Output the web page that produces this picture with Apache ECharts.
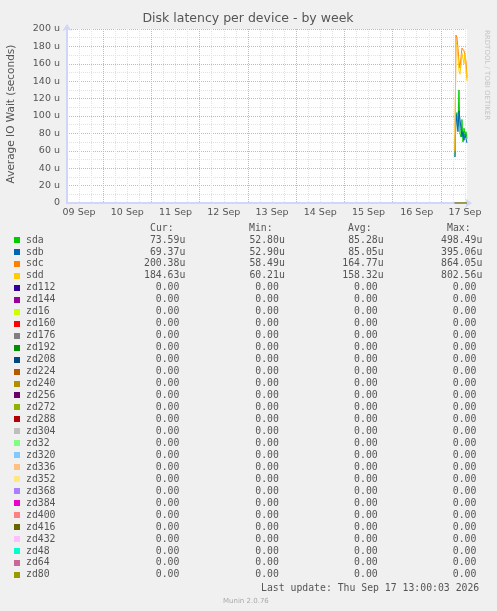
<!DOCTYPE html>
<html>
<head>
<meta charset="utf-8">
<script src="https://cdn.jsdelivr.net/npm/echarts@6/dist/echarts.min.js"></script>
<style>
	html, body { margin: 0; padding: 0; background: #f0f0f0; }
	#main { width: 497px; height: 611px; }
</style>
</head>
<body>
<div id="main"></div>
<script>
/** ---------------- data (values in micro-seconds) ---------------- */
var sampleTimes = ['07:00', '07:30', '08:00', '08:30', '09:00', '09:30', '10:00',
	'10:30', '11:00', '11:30', '12:00', '12:30', '13:00'];
var sdaValues = [52.8, 98, 104, 88, 130, 80, 76, 96, 70, 86, 78, 82, 74];
var sdbValues = [52.9, 102, 92, 82, 106, 96, 86, 76, 82, 72, 79, 74, 69];
var sdcValues = [58.5, 193, 190, 178, 163, 155, 167, 178, 176, 175, 177, 163, 144];
var sddValues = [60.2, 185, 182, 168, 152, 148, 158, 172, 170, 160, 172, 155, 140];
var zdValues  = [0, 0, 0, 0, 0, 0, 0, 0, 0, 0, 0, 0, 0];

var dayLabels = ['09 Sep', '10 Sep', '11 Sep', '12 Sep', '13 Sep', '14 Sep', '15 Sep', '16 Sep', '17 Sep'];

var devices = ['sda', 'sdb', 'sdc', 'sdd', 'zd112', 'zd144', 'zd16', 'zd160', 'zd176', 'zd192',
	'zd208', 'zd224', 'zd240', 'zd256', 'zd272', 'zd288', 'zd304', 'zd32', 'zd320', 'zd336',
	'zd352', 'zd368', 'zd384', 'zd400', 'zd416', 'zd432', 'zd48', 'zd64', 'zd80'];
var curValues = [73.59, 69.37, 200.38, 184.63, 0, 0, 0, 0, 0, 0, 0, 0, 0, 0, 0, 0, 0, 0, 0, 0, 0, 0, 0, 0, 0, 0, 0, 0, 0];
var minValues = [52.80, 52.90, 58.49, 60.21, 0, 0, 0, 0, 0, 0, 0, 0, 0, 0, 0, 0, 0, 0, 0, 0, 0, 0, 0, 0, 0, 0, 0, 0, 0];
var avgValues = [85.28, 85.05, 164.77, 158.32, 0, 0, 0, 0, 0, 0, 0, 0, 0, 0, 0, 0, 0, 0, 0, 0, 0, 0, 0, 0, 0, 0, 0, 0, 0];
var maxValues = [498.49, 395.06, 864.05, 802.56, 0, 0, 0, 0, 0, 0, 0, 0, 0, 0, 0, 0, 0, 0, 0, 0, 0, 0, 0, 0, 0, 0, 0, 0, 0];

// munin palette
var deviceColors = ['#00CC00', '#0066B3', '#FF8000', '#FFCC00', '#330099', '#990099', '#CCFF00', '#FF0000',
	'#808080', '#008F00', '#00487D', '#B35A00', '#B38F00', '#6B006B', '#8FB300', '#B30000', '#BEBEBE',
	'#80FF80', '#80C9FF', '#FFC080', '#FFE680', '#AA80FF', '#EE00CC', '#FF8080', '#666600', '#FFBFFF',
	'#00FFCC', '#CC6699', '#999900'];
/** ---------------- end of data ---------------- */

var HOUR = 3600 * 1000;
var startTime = Date.UTC(2026, 8, 9, 6, 0);
var endTime = Date.UTC(2026, 8, 17, 13, 0);
var firstNoon = Date.UTC(2026, 8, 9, 12, 0);

function toTime(s) {
	var p = s.split(':');
	return Date.UTC(2026, 8, 17, +p[0], +p[1]);
}
function fmt(v) {
	var s = v === 0 ? '0.00 ' : v.toFixed(2) + 'u';
	while (s.length < 7) s = ' ' + s;
	return s;
}

var seriesValues = [sdaValues, sdbValues, sdcValues, sddValues];
var series = devices.map(function(name, i) {
	var vals = seriesValues[i] || zdValues;
	return {
		name: name,
		type: 'line',
		showSymbol: false,
		symbol: 'none',
		animation: false,
		silent: true,
		lineStyle: { width: 1, color: deviceColors[i] },
		data: sampleTimes.map(function(t, k) { return [toTime(t), vals[k]]; })
	};
});

var textColor = '#555';
var gridGray = '#e2e2e2';
var gridRed = '#eba8a8';
var monoFont = '9.8px "DejaVu Sans Mono", monospace';

// legend table below the plot
var legendItems = [];
var rowTop = 240, rowStep = 11.96;
[['Cur:', 150], ['Min:', 249], ['Avg:', 348], ['Max:', 447]].forEach(function(h) {
	legendItems.push({ type: 'text', x: h[1], y: 228,
		style: { text: h[0], font: monoFont, fill: textColor, verticalAlign: 'middle' } });
});
devices.forEach(function(name, i) {
	var y = rowTop + i * rowStep;
	legendItems.push({ type: 'rect', shape: { x: 14, y: Math.round(y) - 3, width: 6, height: 6 },
		style: { fill: deviceColors[i] } });
	legendItems.push({ type: 'text', x: 26, y: y,
		style: { text: name, font: monoFont, fill: textColor, verticalAlign: 'middle' } });
	[[curValues, 144], [minValues, 243.5], [avgValues, 342.3], [maxValues, 441]].forEach(function(c) {
		legendItems.push({ type: 'text', x: c[1], y: y,
			style: { text: fmt(c[0][i]), font: monoFont, fill: textColor, verticalAlign: 'middle' } });
	});
});
legendItems.push({ type: 'text', x: 261, y: 588,
	style: { text: 'Last update: Thu Sep 17 13:00:03 2026', font: monoFont, fill: textColor, verticalAlign: 'middle' } });
legendItems.push({ type: 'text', x: 223, y: 601,
	style: { text: 'Munin 2.0.76', font: '7px "DejaVu Sans", sans-serif', fill: '#aaa', verticalAlign: 'middle' } });
legendItems.push({ type: 'text', x: 248, y: 19,
	style: { text: 'Disk latency per device - by week', font: '12.5px "DejaVu Sans", sans-serif',
		fill: textColor, align: 'center', verticalAlign: 'middle' } });
legendItems.push({ type: 'text', x: 11, y: 114, rotation: Math.PI / 2,
	style: { text: 'Average IO Wait (seconds)', font: '10.5px "DejaVu Sans", sans-serif',
		fill: textColor, align: 'center', verticalAlign: 'middle' } });
legendItems.push({ type: 'text', x: 487, y: 30, rotation: -Math.PI / 2,
	style: { text: 'RRDTOOL / TOBI OETIKER', font: '7px "DejaVu Sans", sans-serif',
		fill: '#c4c4c4', align: 'left', verticalAlign: 'middle' } });

var myChart = echarts.init(document.getElementById('main'), null, { renderer: 'canvas' });
var option = {
	backgroundColor: '#f0f0f0',
	animation: false,
	grid: {
		left: 67, top: 29, width: 400, height: 174,
		show: true, backgroundColor: '#ffffff', borderWidth: 0
	},
	xAxis: {
		type: 'value',
		min: startTime, max: endTime,
		interval: 6 * HOUR,
		axisLine: {
			show: true, symbol: ['none', 'arrow'], symbolSize: [7, 7], symbolOffset: [0, 5],
			lineStyle: { color: '#cfd6f8', width: 2 }
		},
		axisTick: { show: false },
		axisLabel: {
			margin: 5, color: textColor, fontSize: 9.5, fontFamily: 'DejaVu Sans',
			showMinLabel: true, showMaxLabel: true, hideOverlap: false,
			formatter: function(v) {
				var k = (v - firstNoon) / (24 * HOUR);
				return (k >= 0 && k === Math.round(k)) ? dayLabels[k] : '';
			}
		},
		splitLine: {
			show: true, showMaxLine: false,
			lineStyle: { color: [gridGray, gridGray, gridGray, gridRed], type: [1, 1], width: 1 }
		}
	},
	yAxis: {
		type: 'value',
		min: 0, max: 200, interval: 10,
		axisLine: {
			show: true, symbol: ['none', 'arrow'], symbolSize: [7, 7], symbolOffset: [0, 5],
			lineStyle: { color: '#cfd6f8', width: 2 }
		},
		axisTick: { show: false },
		axisLabel: {
			margin: 7, color: textColor, fontSize: 9.5, fontFamily: 'DejaVu Sans',
			formatter: function(v) {
				if (v % 20 !== 0) return '';
				return v === 0 ? '0' : v + ' u';
			}
		},
		splitLine: {
			show: true,
			lineStyle: { color: [gridRed, gridGray], type: [1, 1], width: 1 }
		}
	},
	graphic: legendItems,
	series: series
};
myChart.setOption(option);
</script>
</body>
</html>
